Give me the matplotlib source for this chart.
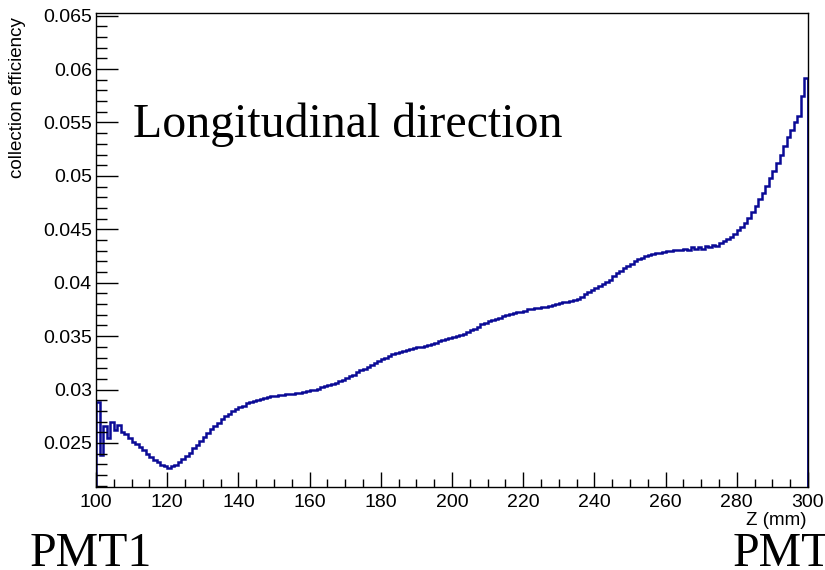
import numpy as np
import matplotlib
matplotlib.use("Agg")
import matplotlib.pyplot as plt
from matplotlib.ticker import MultipleLocator

# collection efficiency per 1 mm bin along Z, from 100 mm to 300 mm
z_lo, z_hi = 100, 300
efficiency = [
    0.0288, 0.0239, 0.0266, 0.0255, 0.0270, 0.0262, 0.0267, 0.0260, 0.0258, 0.0255,
    0.0251, 0.0249, 0.0246, 0.0243, 0.0240, 0.0237, 0.0234, 0.0232, 0.0229, 0.0228,
    0.0227, 0.0228, 0.0229, 0.0232, 0.0235, 0.0238, 0.0241, 0.0245, 0.0248, 0.0252,
    0.0256, 0.0259, 0.0263, 0.0266, 0.0269, 0.0272, 0.0275, 0.0277, 0.0280, 0.0282,
    0.0284, 0.0285, 0.0287, 0.0288, 0.0289, 0.0290, 0.0291, 0.0292, 0.0293, 0.0294,
    0.0294, 0.0295, 0.0295, 0.0296, 0.0296, 0.0296, 0.0297, 0.0297, 0.0298, 0.0299,
    0.0300, 0.0300, 0.0301, 0.0302, 0.0303, 0.0304, 0.0305, 0.0306, 0.0308, 0.0309,
    0.0311, 0.0313, 0.0314, 0.0316, 0.0318, 0.0319, 0.0321, 0.0323, 0.0325, 0.0327,
    0.0329, 0.0330, 0.0331, 0.0333, 0.0334, 0.0335, 0.0336, 0.0337, 0.0338, 0.0339,
    0.0340, 0.0340, 0.0341, 0.0342, 0.0343, 0.0344, 0.0345, 0.0346, 0.0347, 0.0348,
    0.0349, 0.0350, 0.0351, 0.0352, 0.0354, 0.0356, 0.0357, 0.0359, 0.0361, 0.0362,
    0.0364, 0.0365, 0.0366, 0.0367, 0.0369, 0.0370, 0.0371, 0.0372, 0.0373, 0.0373,
    0.0374, 0.0375, 0.0375, 0.0376, 0.0376, 0.0377, 0.0377, 0.0378, 0.0379, 0.0380,
    0.0381, 0.0382, 0.0382, 0.0383, 0.0384, 0.0385, 0.0387, 0.0389, 0.0391, 0.0393,
    0.0395, 0.0397, 0.0399, 0.0401, 0.0403, 0.0406, 0.0409, 0.0411, 0.0414, 0.0416,
    0.0418, 0.0420, 0.0422, 0.0423, 0.0425, 0.0426, 0.0427, 0.0428, 0.0428, 0.0429,
    0.0430, 0.0430, 0.0431, 0.0431, 0.0431, 0.0432, 0.0431, 0.0433, 0.0432, 0.0433,
    0.0432, 0.0434, 0.0433, 0.0435, 0.0434, 0.0437, 0.0439, 0.0441, 0.0443, 0.0446,
    0.0449, 0.0452, 0.0456, 0.0461, 0.0466, 0.0472, 0.0478, 0.0484, 0.0491, 0.0498,
    0.0505, 0.0512, 0.0520, 0.0528, 0.0536, 0.0543, 0.0550, 0.0556, 0.0575, 0.0592,
]
y_lo, y_hi = 0.02088, 0.06525

edges = np.linspace(z_lo, z_hi, len(efficiency) + 1)

fig = plt.figure(figsize=(8.25, 5.7), dpi=100)
ax = fig.add_axes([96 / 825, 83 / 570, 712 / 825, 474 / 570])

line_color = "#0a0a96"
ax.stairs(efficiency, edges, color=line_color, lw=1.8)
ax.vlines(edges[-1], y_lo, efficiency[-1], color=line_color, lw=1.8)

ax.set_xlim(z_lo, z_hi)
ax.set_ylim(y_lo, y_hi)

ax.xaxis.set_major_locator(MultipleLocator(20))
ax.xaxis.set_minor_locator(MultipleLocator(5))
ax.yaxis.set_major_locator(MultipleLocator(0.005))
ax.yaxis.set_minor_locator(MultipleLocator(0.001))
ax.yaxis.set_major_formatter(plt.FuncFormatter(lambda v, p: ("%.3f" % v).rstrip("0")))

ax.tick_params(axis="both", which="both", direction="in", top=False, right=False,
               width=1, color="black")
ax.tick_params(axis="x", which="major", length=11, pad=5)
ax.tick_params(axis="x", which="minor", length=5.5)
ax.tick_params(axis="y", which="major", length=15.5, pad=3)
ax.tick_params(axis="y", which="minor", length=8)
for lab in ax.get_xticklabels() + ax.get_yticklabels():
    lab.set_fontfamily("Liberation Sans")
    lab.set_fontsize(14)

for s in ax.spines.values():
    s.set_linewidth(1)

fig.text(18 / 825, 1 - 17 / 570, "collection efficiency", rotation=90,
         ha="center", va="top", family="Liberation Sans", fontsize=13.5)
fig.text(807 / 825, 1 - 512 / 570, "Z (mm)", ha="right", va="top",
         family="Liberation Sans", fontsize=13.5)

fig.text(133 / 825, 1 - 137 / 570, "Longitudinal direction",
         family="Liberation Serif", fontsize=34.5, va="baseline")
fig.text(30 / 825, 1 - 566 / 570, "PMT1",
         family="Liberation Serif", fontsize=34.5, va="baseline")
fig.text(733 / 825, 1 - 566 / 570, "PMT2",
         family="Liberation Serif", fontsize=34.5, va="baseline")

fig.savefig("out.png", dpi=100)
